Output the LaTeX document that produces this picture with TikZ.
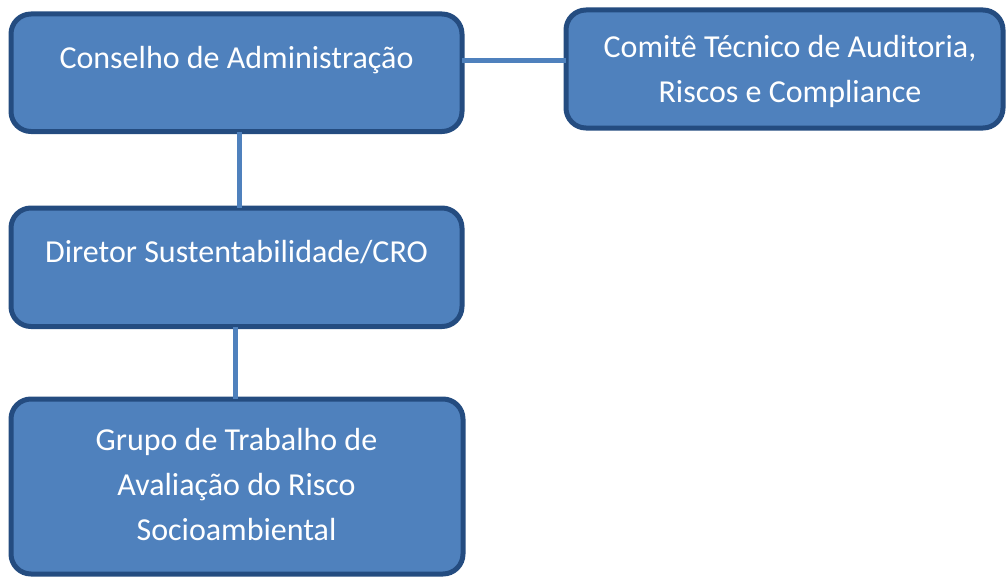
\documentclass[tikz,border=0pt]{standalone}
\usepackage{fontspec}
\setmainfont{Carlito}
\definecolor{boxfill}{RGB}{79,129,189}
\definecolor{boxline}{RGB}{36,76,128}
\definecolor{connline}{RGB}{79,129,189}
\begin{document}
\begin{tikzpicture}[x=1pt,y=-1pt,
  box/.style={draw=boxline, fill=boxfill, line width=5pt, rounded corners=20pt, inner sep=0pt, outer sep=0pt},
  txt/.style={text=white, font=\fontsize{32}{45}\selectfont, align=center, inner sep=0pt},
  conn/.style={draw=connline, line width=5pt}]
\useasboundingbox (0,0) rectangle (1006,578);
% boxes
\node[box, minimum width=451pt, minimum height=117.5pt] (b1) at (236.5,72.75) {};
\node[box, minimum width=437pt, minimum height=118pt] (b2) at (784.5,69) {};
\node[box, minimum width=451pt, minimum height=118.5pt] (b3) at (236.5,267.25) {};
\node[box, minimum width=452pt, minimum height=175pt] (b4) at (237,486.5) {};
% connectors
\coordinate (hline) at (0,60.5);
\draw[conn] ([xshift=2.5pt]b1.south) -- ([xshift=2.5pt]b1.south |- b3.north);
\draw[conn] ([xshift=-1.5pt]b3.south) -- ([xshift=-1.5pt]b3.south |- b4.north);
\draw[conn] (b1.east |- hline) -- (b2.west |- hline);
% texts
\node[txt, anchor=base] (t1) at (236.5,68) {Conselho de Administração};
\node[txt, anchor=base] (t2a) at (790,57) {Comitê Técnico de Auditoria,};
\node[txt, anchor=base] (t2b) at (790,102) {Riscos e Compliance};
\node[txt, anchor=base] (t3) at (236.5,262) {Diretor Sustentabilidade/CRO};
\node[txt, anchor=base] (t4a) at (236.5,450) {Grupo de Trabalho de};
\node[txt, anchor=base] (t4b) at (236.5,495) {Avaliação do Risco};
\node[txt, anchor=base] (t4c) at (236.5,540) {Socioambiental};
\end{tikzpicture}
\end{document}
